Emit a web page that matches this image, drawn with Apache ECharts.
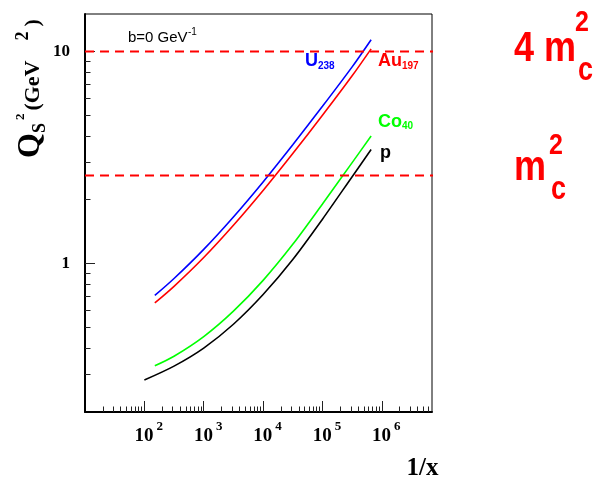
<!DOCTYPE html>
<html><head><meta charset="utf-8">
<script src="https://cdn.jsdelivr.net/npm/echarts@6/dist/echarts.min.js"></script>
<style>html,body{margin:0;padding:0;background:#fff}#c{width:596px;height:484px}</style>
</head><body><div id="c"></div>
<script>
// ---- data ----
const xU  = [150, 316, 1000, 3162, 10000, 31620, 100000, 316200, 660000];
const yU  = [0.708, 0.851, 1.168, 1.660, 2.427, 3.631, 5.508, 8.453, 11.35];
const xAu = [150, 316, 1000, 3162, 10000, 31620, 100000, 316200, 660000];
const yAu = [0.653, 0.782, 1.069, 1.517, 2.213, 3.304, 5.000, 7.674, 10.28];
const xCo = [150, 316, 1000, 3162, 10000, 31620, 100000, 316200, 660000];
const yCo = [0.330, 0.366, 0.453, 0.597, 0.834, 1.233, 1.910, 2.992, 3.990];
const xP  = [100, 316, 1000, 3162, 10000, 31620, 100000, 316200, 660000];
const yP  = [0.283, 0.329, 0.400, 0.518, 0.715, 1.046, 1.620, 2.568, 3.448];
const thresholds = [10.0, 2.6];          // 4 m_c^2 , m_c^2
const thresholdX = [10, 8.7e7];
const xMajor = [100, 1000, 10000, 100000, 1000000];
const xMinor = [20,30,40,50,60,70,80,90, 200,300,400,500,600,700,800,900,
  2000,3000,4000,5000,6000,7000,8000,9000, 20000,30000,40000,50000,60000,70000,80000,90000,
  200000,300000,400000,500000,600000,700000,800000,900000, 2000000,3000000,4000000,5000000,6000000];
const yMajor = [1, 10];
const yMinor = [0.3,0.4,0.5,0.6,0.7,0.8,0.9, 2,3,4,5,6,7,8,9];

const pairs = (xs, ys) => xs.map((x, i) => [x, ys[i]]);
const chart = echarts.init(document.getElementById('c'), null, {renderer: 'canvas'});
const SERIF = '"Liberation Serif", "Times New Roman", serif';
const SANS = '"Liberation Sans", Arial, sans-serif';

function T(text, x, base, size, color, o) {
  o = o || {};
  const sy = o.sy || 1;
  return {type: 'text', x: x, y: base - 0.3465 * size * sy, scaleY: sy, silent: true, z: 100,
    style: {text: text, fontSize: size, fontFamily: o.f || SANS, fontWeight: o.w || 'bold',
      fill: color, align: 'left', verticalAlign: 'middle'}};
}

const lineS = (data, color) => ({type: 'line', data: data, showSymbol: false, symbol: 'none',
  smooth: 0.3, lineStyle: {color: color, width: 1.6}, silent: true});
const dashS = (v) => ({type: 'line', data: thresholdX.map(x => [x, v]), clip: false, showSymbol: false,
  symbol: 'none', lineStyle: {color: '#ff0000', width: 2, type: [9, 6]}, silent: true});

const baseAxis = {type: 'log', logBase: 10, splitLine: {show: false}};

chart.setOption({
  animation: false,
  grid: {left: 85, right: 164, top: 14, bottom: 72, show: true, borderColor: '#000', borderWidth: 1},
  xAxis: [
    Object.assign({}, baseAxis, {min: 10, max: 7e6, position: 'bottom',
      axisLine: {lineStyle: {color: '#000', width: 2}},
      axisTick: {inside: true, length: 11, customValues: xMajor, lineStyle: {color: '#222', width: 1}},
      axisLabel: {customValues: xMajor, margin: 8,
        formatter: v => '{b|10}{s|' + Math.round(Math.log10(v)) + '}',
        rich: {
          b: {fontFamily: SERIF, fontWeight: 'bold', fontSize: 19, lineHeight: 19, padding: [7, 0, 0, 9], verticalAlign: 'top', color: '#000'},
          s: {fontFamily: SERIF, fontWeight: 'bold', fontSize: 13, lineHeight: 13, padding: [0, 0, 0, 3], verticalAlign: 'top', color: '#000'}
        }},
      name: '1/x', nameLocation: 'end', nameGap: 0,
      nameTextStyle: {fontFamily: SERIF, fontWeight: 'bold', fontSize: 25, color: '#000', align: 'right',
        verticalAlign: 'top', lineHeight: 25, padding: [44, 5, 0, 0]}}),
    Object.assign({}, baseAxis, {min: 10, max: 7e6, position: 'bottom',
      axisLine: {show: false},
      axisTick: {inside: true, length: 5.5, customValues: xMinor, lineStyle: {color: '#222', width: 1}},
      axisLabel: {show: false}})
  ],
  yAxis: [
    Object.assign({}, baseAxis, {min: 0.2, max: 15, position: 'left',
      axisLine: {lineStyle: {color: '#000', width: 2}},
      axisTick: {inside: true, length: 10, customValues: yMajor, lineStyle: {color: '#222', width: 1}},
      axisLabel: {customValues: yMajor, margin: 15, formatter: v => String(Math.round(v)),
        fontFamily: SERIF, fontWeight: 'bold', fontSize: 17, color: '#000'}}),
    Object.assign({}, baseAxis, {min: 0.2, max: 15, position: 'left',
      axisLine: {show: false},
      axisTick: {inside: true, length: 5.5, customValues: yMinor, lineStyle: {color: '#222', width: 1}},
      axisLabel: {show: false}})
  ],
  series: [
    lineS(pairs(xU, yU), '#0000ff'),
    lineS(pairs(xAu, yAu), '#ff0000'),
    lineS(pairs(xCo, yCo), '#00ff00'),
    lineS(pairs(xP, yP), '#000000'),
    dashS(thresholds[0]),
    dashS(thresholds[1])
  ]
});

const Ly = v => chart.convertToPixel({xAxisIndex: 0, yAxisIndex: 0}, [1000, v])[1];
const L4 = Ly(thresholds[0]), L1 = Ly(thresholds[1]);

const yTitle = {type: 'text', x: 30.5, y: 158, rotation: Math.PI / 2, silent: true,
  style: {
    text: '{q|Q}{s|S}{w3| }{p|2}{w3| }{g|(GeV}{w20| }{p2|2}{w5| }{g|)}',
    align: 'left', verticalAlign: 'middle',
    rich: {
      q: {fontFamily: SERIF, fontWeight: 'bold', fontSize: 32, lineHeight: 32, verticalAlign: 'top', fill: '#000'},
      s: {fontFamily: SERIF, fontWeight: 'bold', fontSize: 18, lineHeight: 18, padding: [17, 0, 0, 0], verticalAlign: 'top', fill: '#000'},
      p: {fontFamily: SERIF, fontWeight: 'bold', fontSize: 13, lineHeight: 12, verticalAlign: 'top', fill: '#000'},
      p2: {fontFamily: SERIF, fontWeight: 'bold', fontSize: 18, lineHeight: 16, verticalAlign: 'top', fill: '#000'},
      g: {fontFamily: SERIF, fontWeight: 'bold', fontSize: 22, lineHeight: 22, padding: [8, 0, 0, 0], verticalAlign: 'top', fill: '#000'},
      w3: {width: 3, fontSize: 10, lineHeight: 10, verticalAlign: 'top'},
      w5: {width: 5, fontSize: 10, lineHeight: 10, verticalAlign: 'top'},
      w20: {width: 20, fontSize: 10, lineHeight: 10, verticalAlign: 'top'}
    }}};

chart.setOption({
  graphic: [
    yTitle,
    T('b=0 GeV', 128, 43, 15, '#000', {w: 'normal'}),
    T('-1', 188, 36, 10, '#000', {w: 'normal'}),
    T('U', 305, 67, 18, '#0000ff'),
    T('238', 318, 70, 10, '#0000ff'),
    T('Au', 378, 67, 18, '#ff0000'),
    T('197', 402, 70, 10, '#ff0000'),
    T('Co', 378, 128, 18, '#00ff00'),
    T('40', 402, 130, 10, '#00ff00'),
    T('p', 380, 159, 18, '#000'),
    T('4 m', 514, L4 + 12.3, 36, '#ff0000', {sy: 1.2}),
    T('2', 575, L4 - 18, 25, '#ff0000', {sy: 1.2}),
    T('c', 578, L4 + 31, 27, '#ff0000', {sy: 1.2}),
    T('m', 514, L1 + 7.3, 36, '#ff0000', {sy: 1.2}),
    T('2', 549, L1 - 19, 25, '#ff0000', {sy: 1.2}),
    T('c', 551, L1 + 26, 27, '#ff0000', {sy: 1.2})
  ]
});
</script></body></html>
